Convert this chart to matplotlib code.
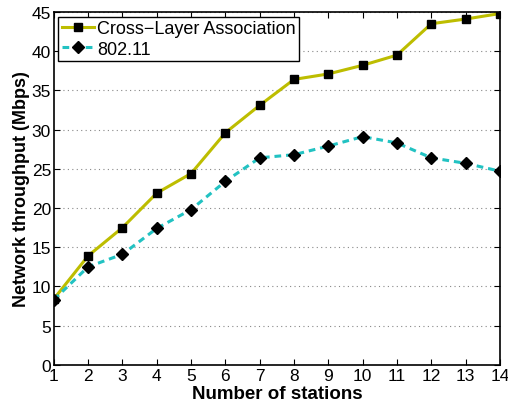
import matplotlib
matplotlib.use("Agg")
import matplotlib.pyplot as plt

plt.rcParams['font.family'] = ['Liberation Sans', 'DejaVu Sans']

stations = [1, 2, 3, 4, 5, 6, 7, 8, 9, 10, 11, 12, 13, 14]
cross_layer = [8.4, 13.9, 17.5, 21.9, 24.4, 29.6, 33.1, 36.4, 37.1, 38.2, 39.5, 43.5, 44.1, 44.8]
dot11 = [8.3, 12.5, 14.1, 17.4, 19.8, 23.4, 26.4, 26.8, 27.9, 29.1, 28.3, 26.4, 25.7, 24.7]

fig = plt.figure(figsize=(5.08, 4.06), dpi=100)
ax = fig.add_axes([0.106, 0.099, 0.878, 0.869])

ax.plot(stations, cross_layer, color='#BDBD00', lw=2.2, marker='s', ms=5.5,
        mfc='black', mec='black', label='Cross\u2212Layer Association', zorder=3)
ax.plot(stations, dot11, color='#22C2C2', lw=2.2, ls=(0, (2.2, 1.6)), marker='D', ms=6,
        mfc='black', mec='black', label='802.11', zorder=3)

ax.set_xlim(1, 14)
ax.set_ylim(0, 45)
ax.set_xticks(stations)
ax.set_yticks(range(0, 46, 5))
ax.yaxis.grid(True, ls=(0, (1, 3)), color='#888888', lw=0.8)
ax.tick_params(direction='in', top=True, right=True, labelsize=12.5, length=4, width=0.8, pad=2)
for s in ax.spines.values():
    s.set_linewidth(1.2)

ax.set_xlabel('Number of stations', fontsize=13.5, fontweight='bold', labelpad=2)
ax.set_ylabel('Network throughput (Mbps)', fontsize=13, fontweight='bold', labelpad=1)

leg = ax.legend(loc='upper left', fontsize=13, fancybox=False, framealpha=1,
                edgecolor='black', borderaxespad=0.25, handlelength=1.8,
                borderpad=0.2, labelspacing=0.2, handletextpad=0.15)
leg.get_frame().set_linewidth(1.0)

fig.savefig('out.png', dpi=100)
